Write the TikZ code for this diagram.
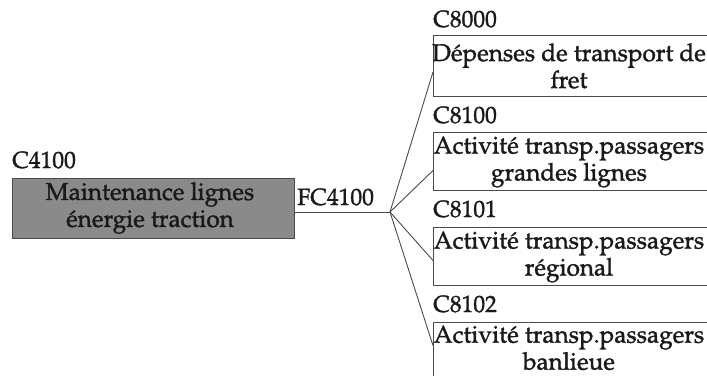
\documentclass[tikz,border=0pt]{standalone}
\usepackage[T1]{fontenc}
\usepackage{mathpazo}
\usetikzlibrary{calc}
\definecolor{ink}{HTML}{1A1A1A}
\definecolor{edge}{HTML}{4A4A4A}
\definecolor{boxgray}{HTML}{8A8A8A}
\newcommand{\heavytext}[1]{\special{pdf:literal direct 2 Tr 0.35 w}#1\special{pdf:literal direct 0 Tr}}
\tikzset{
  lbl/.style={anchor=base west, inner sep=0pt, text=ink, font=\fontsize{23.5}{27}\selectfont},
  boxtxt/.style={align=center, inner sep=0pt, text=ink, font=\fontsize{24.3}{27}\selectfont},
  rbox/.style={draw=edge, line width=1pt, minimum width=280pt, anchor=north west, inner sep=0pt},
  conn/.style={draw=edge, line width=0.9pt}
}
\begin{document}
\begin{tikzpicture}[x=1pt,y=-1pt]
\useasboundingbox (0,0) rectangle (707,375);
\clip (0,0) rectangle (707,375);
% left box
\node[lbl] (c4100) at (12,168) {\heavytext{C4100}};
\node[draw=edge, fill=boxgray, line width=1pt, minimum width=282pt, minimum height=60pt, inner sep=0pt] (b0) at (153,208) {};
\node[boxtxt] (t0) at (150,208) {\heavytext{Maintenance lignes}\\\heavytext{énergie traction}};
\node[lbl] (fc) at (297,205) {\heavytext{FC4100}};
\coordinate (J) at (390,212);
% right boxes
\node[lbl] (c8000) at (433,27) {\heavytext{C8000}};
\node[rbox, minimum height=61pt] (b1) at (433,35) {};
\node[boxtxt] (t1) at (569,66) {\heavytext{Dépenses de transport de}\\\heavytext{fret}};
\node[lbl] (c8100) at (433,123) {\heavytext{C8100}};
\node[rbox, minimum height=58pt] (b2) at (433,132) {};
\node[boxtxt] (t2) at (569,162) {\heavytext{Activité transp.passagers}\\\heavytext{grandes lignes}};
\node[lbl] (c8101) at (433,217) {\heavytext{C8101}};
\node[rbox, minimum height=58pt] (b3) at (433,227) {};
\node[boxtxt] (t3) at (569,257) {\heavytext{Activité transp.passagers}\\\heavytext{régional}};
\node[lbl] (c8102) at (433,312) {\heavytext{C8102}};
\node[rbox, minimum height=62pt] (b4) at (433,322) {};
\node[boxtxt] (t4) at (569,348) {\heavytext{Activité transp.passagers}\\\heavytext{banlieue}};
% connectors
\draw[conn] (b0.east |- J) -- (J);
\draw[conn] (J) -- ([yshift=-6pt]b1.west);
\draw[conn] (J) -- ([yshift=-9pt]b2.west);
\draw[conn] (J) -- ([yshift=-4pt]b3.west);
\draw[conn] (J) -- ([yshift=8pt]b4.west);
\end{tikzpicture}
\end{document}
